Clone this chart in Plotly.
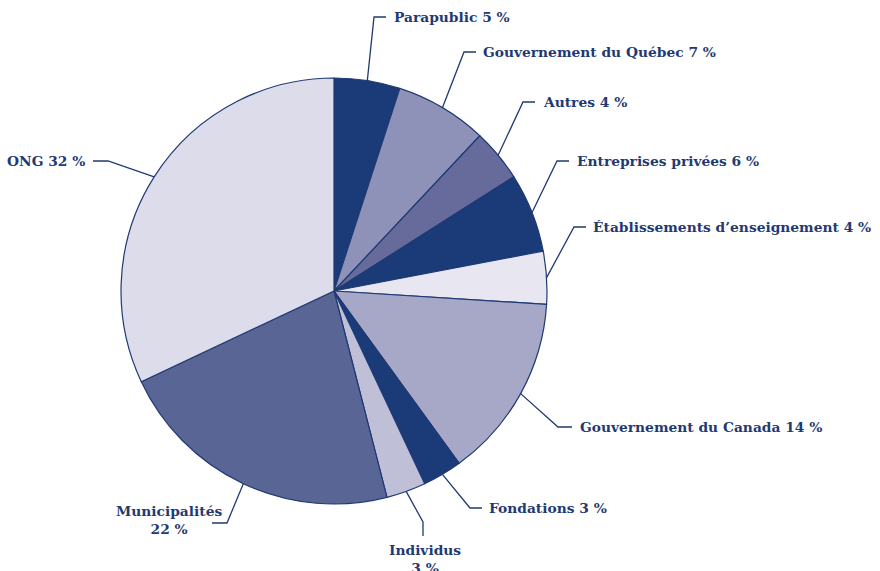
import math
import plotly.graph_objects as go

# ---- data ----
categories = ["Parapublic", "Gouvernement du Québec", "Autres", "Entreprises privées",
              "Établissements d’enseignement", "Gouvernement du Canada", "Fondations",
              "Individus", "Municipalités", "ONG"]
values = [5, 7, 4, 6, 4, 14, 3, 3, 22, 32]
colors = ["#1b3a78", "#8f92b8", "#676b9b", "#1b3a78", "#e8e7f1",
          "#a7a8c7", "#1b3a78", "#bfc0d7", "#596594", "#dcdceb"]
line_breaks = [False, False, False, False, False, False, False, True, True, False]

# ---- layout (pixels in the 880x571 page) ----
W, H = 880, 571
CX, CY, R = 334, 291, 213
# elbow point, end point, text anchor point, xanchor
label_layout = [
    ((374, 17), (386, 17), (392, 17), "left"),
    ((464, 52), (476, 52), (481, 52), "left"),
    ((523, 102), (535, 102), (541, 102), "left"),
    ((557, 161), (569, 161), (575, 161), "left"),
    ((574, 227), (586, 227), (591, 227), "left"),
    ((558, 427), (572, 427), (578, 427), "left"),
    ((470, 508), (482, 508), (487, 508), "left"),
    ((423, 522), (423, 536), (425, 559), "center"),
    ((227, 523), (212, 523), (169, 520), "center"),
    ((108, 161), (93, 161), (87, 161), "right"),
]
INK = "#1f3a73"


def px(x, y):
    return x / W, 1 - y / H


fig = go.Figure(go.Pie(
    labels=categories, values=values, sort=False, direction="clockwise", rotation=0,
    marker=dict(colors=colors, line=dict(color=INK, width=1.2)),
    textinfo="none", hoverinfo="label+percent", showlegend=False,
    domain=dict(x=[(CX - R) / W, (CX + R) / W],
                y=[1 - (CY + R) / H, 1 - (CY - R) / H]),
))

total = sum(values)
cum = 0
shapes, annotations = [], []
for name, v, brk, (elbow, end, anchor, xa) in zip(categories, values, line_breaks, label_layout):
    mid = (cum + v / 2) / total * 2 * math.pi
    cum += v
    sx = CX + R * math.sin(mid)
    sy = CY - R * math.cos(mid)
    pts = [px(sx, sy), px(*elbow), px(*end)]
    path = "M {} {} L {} {} L {} {}".format(*[c for p in pts for c in p])
    shapes.append(dict(type="path", xref="paper", yref="paper", path=path,
                       line=dict(color=INK, width=1.3)))
    txt = f"{name}<br>{v} %" if brk else f"{name} {v} %"
    ax, ay = px(*anchor)
    annotations.append(dict(x=ax, y=ay, xref="paper", yref="paper", text=txt,
                            showarrow=False, xanchor=xa, yanchor="middle", align="center",
                            font=dict(family="DejaVu Serif", size=13.8, color=INK, weight="bold")))

fig.update_layout(width=W, height=H, margin=dict(l=0, r=0, t=0, b=0),
                  paper_bgcolor="white", plot_bgcolor="white",
                  shapes=shapes, annotations=annotations)
fig.write_html("out.html", config={"displayModeBar": False},
               post_script="document.body.style.margin='0';document.body.style.overflow='hidden';")
